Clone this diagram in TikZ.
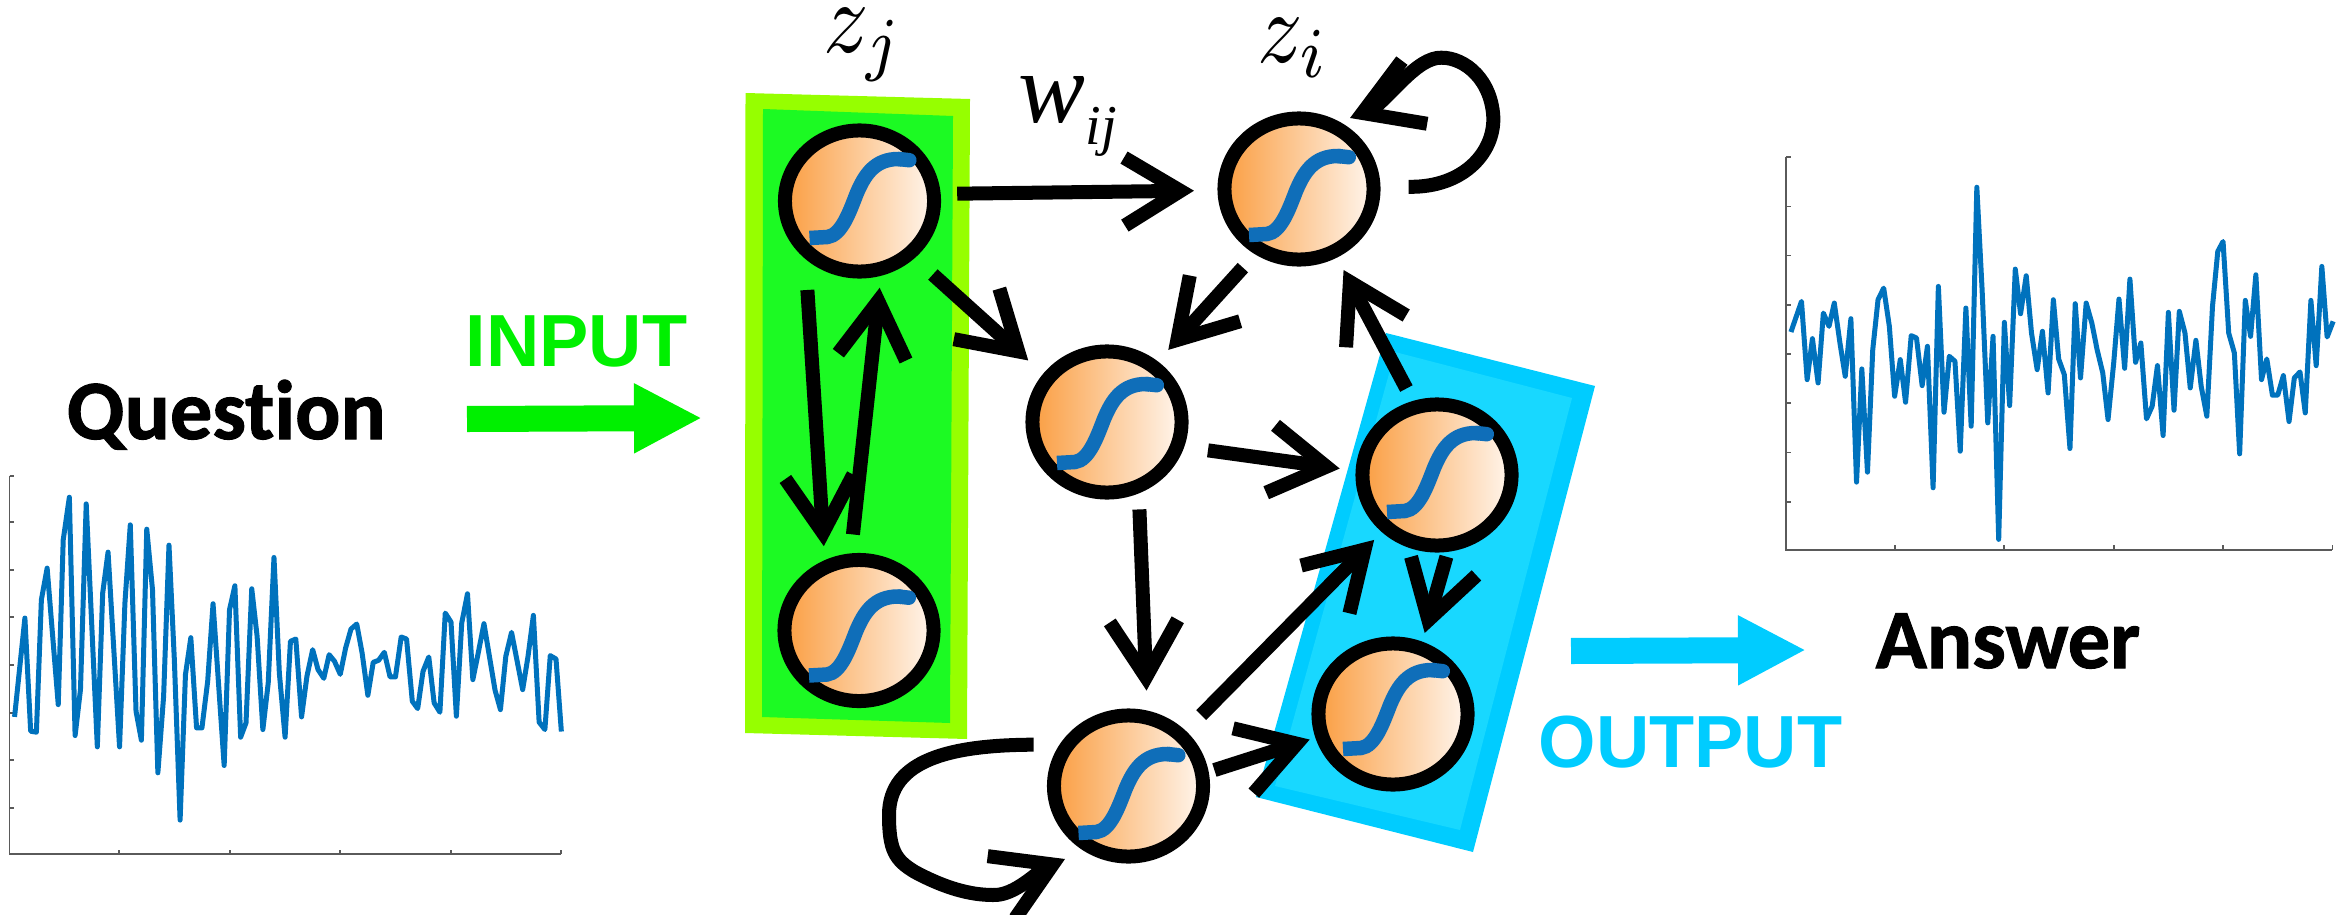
\documentclass[tikz,border=0pt]{standalone}
\usepackage{fontspec}
\usetikzlibrary{arrows.meta,shapes.geometric}
\newfontfamily\carlitofont{Carlito Bold}[Ligatures=NoCommon, FakeBold=1.2]
\newfontfamily\arialfont{Liberation Sans}
\newfontfamily\timesfont{Liberation Serif}
\definecolor{limeedge}{RGB}{150,255,0}
\definecolor{limefill}{RGB}{28,250,35}
\definecolor{skyedge}{RGB}{0,204,255}
\definecolor{skyfill}{RGB}{24,216,255}
\definecolor{inputgreen}{RGB}{0,240,0}
\definecolor{orangeleft}{RGB}{250,158,66}
\definecolor{orangeright}{RGB}{255,246,238}
\definecolor{curveblue}{RGB}{15,110,185}
\definecolor{waveblue}{RGB}{0,114,189}
\definecolor{axisgray}{RGB}{90,90,90}
\tikzset{
	neuron/.style={ellipse, draw=black, line width=.14cm, minimum width=1.49cm, minimum height=1.41cm, inner sep=0, left color=orangeleft, right color=orangeright},
	conn/.style={line width=.14cm, -{Straight Barb[length=.56cm, width=.68cm]}},
	sigmoid/.style={curveblue, line width=.145cm, -{Round Cap[]}},
	wave/.style={waveblue, line width=.05cm, line join=round},
	axisline/.style={axisgray, line width=.018cm},
	bigarrow/.style={line width=.26cm, -{Triangle[length=.68cm, width=.65cm]}},
	mathlabel/.style={anchor=base west, inner sep=0, xscale=2.55, yscale=2.9},
	boldword/.style={anchor=base west, inner sep=0, font=\carlitofont\fontsize{24}{28}\selectfont},
	flowword/.style={anchor=base west, inner sep=0, font=\arialfont\bfseries\fontsize{21}{24}\selectfont}
}
\begin{document}
\begin{tikzpicture}[x=0.01cm, y=-0.01cm]
\useasboundingbox (0,0) rectangle (2351,915);

\fill[limeedge] (745.5,93) -- (970,99) -- (967,739) -- (745,733) -- cycle;
\fill[limefill] (763,109) -- (953,116) -- (950,723) -- (762,717) -- cycle;
\fill[skyedge] (1386,333) -- (1595,386) -- (1473,852) -- (1256,797) -- cycle;
\fill[skyfill] (1395,352) -- (1572,398) -- (1460,830) -- (1275,786) -- cycle;

\node[neuron] (zj) at (859.5,201) {};
\node[neuron] (zi) at (1299,189) {};
\node[neuron] (mid) at (1107,422) {};
\node[neuron] (outa) at (1437,475) {};
\node[neuron] (outb) at (1393,714) {};
\node[neuron] (low) at (1128.5,786) {};
\node[neuron] (inb) at (859,630.5) {};

\foreach \n/\d in {zj/-4, zi/5, mid/0, outa/-4, outb/-6, low/6, inb/4}
{
	\draw[sigmoid, shift={(\n)}, shift={(0,\d)}] (-50,41) -- (-32,40) .. controls (-18,38) and (-10,15) .. (-3,-3) .. controls (5,-22) and (15,-38) .. (39,-38) -- (57,-36);
}

\draw[conn, shorten <=.165cm, shorten >=.235cm] (zj.5.3) -- (zi.181.4);
\draw[conn, shorten <=.31cm, shorten >=.14cm] (zj.227.2) -- (inb.116.9);
\draw[conn, shorten <=.19cm, shorten >=.12cm] (inb.96.7) -- (zj.286.3);
\draw[conn, shorten <=.245cm, shorten >=.2cm] (zj.314.5) -- (mid.143.8);
\draw[conn, shorten <=.18cm, shorten >=.155cm] (zi.236.3) -- (mid.50.2);
\draw[conn, shorten <=.14cm, shorten >=.14cm] (outa.108.1) -- (zi.299);
\draw[conn, shorten <=.24cm, shorten >=.16cm] (mid.342.3) -- (outa.177.4);
\draw[conn, shorten <=.16cm, shorten >=.2cm] (mid.294.2) -- (low.76.2);
\draw[conn, shorten <=.22cm, shorten >=.11cm] (low.44.7) -- (outa.226);
\draw[conn, shorten <=.05cm, shorten >=.09cm] (outa.278) -- (outb.68.1);
\draw[conn, shorten <=.06cm, shorten >=.06cm] (low.10) -- (outb.197.6);

\coordinate (zitip) at (1350,118);
\coordinate (lowtip) at (1065,859);
\draw[conn, shorten <=.28cm] (zi.2) .. controls (1465,188) and (1497,150) .. (1493,113) .. controls (1489,75) and (1460,55) .. (1437,58) .. controls (1412,62) and (1385,104) .. (zitip);
\draw[conn, shorten <=.26cm] (low.149) .. controls (950,745) and (889,760) .. (889,815) .. controls (889,850) and (895,860) .. (915,872) .. controls (945,888) and (970,895) .. (993,895) .. controls (1015,896) and (1038,871) .. (lowtip);

\coordinate (intail) at (467,419);
\coordinate (inhead) at (702,418);
\coordinate (outtail) at (1571,651);
\coordinate (outhead) at (1806,650);
\draw[bigarrow, inputgreen] (intail) -- (inhead);
\draw[bigarrow, skyedge] (outtail) -- (outhead);

\node[boldword] (question) at (66,439) {Question};
\node[boldword] (answer) at (1875,668) {Answer};
\node[flowword, inputgreen] (input) at (465,366) {INPUT};
\node[flowword, skyedge] (output) at (1538,767) {OUTPUT};
\node[mathlabel] (zjlabel) at (822,52) {$z_j$};
\node[mathlabel] (zilabel) at (1256,62) {$z_i$};
\node[anchor=base west, inner sep=0, font=\timesfont\itshape] (wlabel) at (1018,122) {\fontsize{28.5}{30}\selectfont w\raisebox{-6.5pt}{\fontsize{16}{18}\selectfont ij}};

\begin{scope}[shift={(0,440)}, x=0.003827cm, y=-0.003333cm]
\draw[axisline] (25,107) -- (25,1245) -- (1465,1245);
\foreach \t in {107,247,390,533,677,820,962,1106}
{
	\draw[axisline] (25,\t) -- (37,\t);
}
\foreach \t in {311,600,888,1178,1465}
{
	\draw[axisline] (\t,1245) -- (\t,1231);
}
\draw[wave] plot coordinates {(38,832) (65,535) (80,875) (95,878) (108,480) (123,385) (152,795) (165,300) (181,172) (196,888) (210,750) (225,192) (254,922) (268,460) (282,337) (312,922) (326,490) (340,255) (355,815) (369,902) (383,268) (398,450) (412,1000) (427,770) (441,316) (455,660) (470,1142) (484,705) (498,594) (513,865) (527,865) (542,725) (556,492) (585,978) (599,510) (613,438) (628,893) (642,850) (657,447) (671,590) (686,870) (700,730) (715,353) (729,700) (744,893) (758,605) (772,598) (787,832) (801,710) (816,630) (830,690) (845,716) (859,645) (873,665) (888,704) (902,625) (916,568) (931,553) (945,640) (960,767) (974,668) (988,662) (1003,638) (1018,712) (1032,712) (1047,592) (1061,598) (1076,785) (1090,807) (1104,695) (1119,652) (1133,790) (1148,818) (1162,520) (1177,547) (1191,830) (1205,550) (1220,462) (1234,720) (1248,640) (1263,552) (1292,752) (1306,810) (1320,650) (1335,578) (1364,750) (1378,650) (1392,527) (1407,848) (1422,870) (1436,648) (1451,658) (1465,876)};
\end{scope}

\begin{scope}[shift={(1760,130)}, x=0.00377cm, y=-0.003333cm]
\draw[axisline] (69,82) -- (69,1262) -- (1518,1262);
\foreach \t in {82,230,377,525,673,821,969,1117}
{
	\draw[axisline] (69,\t) -- (81,\t);
}
\foreach \t in {358,647,939,1228,1518}
{
	\draw[axisline] (\t,1262) -- (\t,1248);
}
\draw[wave] plot coordinates {(82,607) (110,515) (125,750) (139,627) (154,760) (168,550) (183,590) (197,520) (212,640) (226,740) (241,567) (256,1058) (270,718) (285,1028) (299,660) (313,510) (328,475) (343,590) (357,800) (372,690) (386,818) (401,618) (415,625) (430,768) (444,650) (459,1075) (473,470) (488,848) (502,680) (517,695) (531,965) (546,535) (560,890) (575,172) (589,480) (604,880) (618,620) (633,1230) (648,578) (662,828) (677,418) (691,552) (706,438) (720,610) (735,720) (749,605) (764,790) (778,510) (792,688) (807,735) (822,957) (836,522) (850,745) (865,520) (880,580) (894,660) (909,730) (923,870) (938,700) (952,508) (967,716) (981,448) (996,698) (1010,640) (1025,868) (1040,830) (1054,708) (1069,918) (1083,548) (1098,842) (1112,545) (1127,610) (1141,775) (1156,632) (1170,770) (1185,860) (1200,530) (1214,365) (1228,335) (1243,610) (1258,670) (1272,973) (1287,512) (1301,620) (1315,435) (1330,750) (1344,688) (1359,797) (1373,797) (1388,738) (1403,876) (1417,745) (1432,727) (1446,850) (1461,512) (1475,708) (1490,410) (1504,622) (1520,575)};
\end{scope}
\end{tikzpicture}
\end{document}
